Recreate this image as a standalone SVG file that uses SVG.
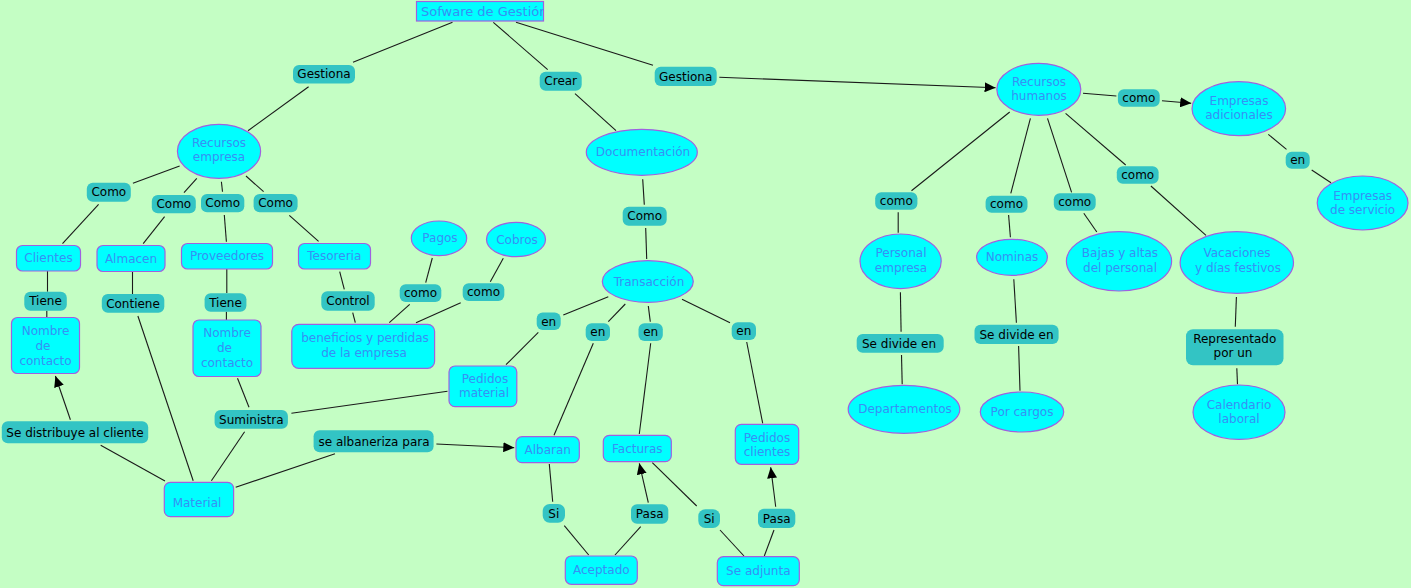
<svg xmlns="http://www.w3.org/2000/svg" width="1411" height="588" viewBox="0 0 1411 588">
<style>
.c{fill:#00FFFF;stroke:#A060E0;stroke-width:1.2}
.l{fill:#33C4C4;stroke:none}
.ct{font-family:"DejaVu Sans",sans-serif;font-size:12px;fill:#3590F5;text-anchor:middle}
.lt{font-family:"DejaVu Sans",sans-serif;font-size:12px;fill:#000;text-anchor:middle}
#connectors line{stroke:#1a1a1a;stroke-width:1.1}
.a{marker-end:url(#arrow)}
</style>
<defs>
<marker id="arrow" markerUnits="userSpaceOnUse" markerWidth="11" markerHeight="10" refX="11" refY="5" orient="auto"><path d="M0,0 L11,5 L0,10 z" fill="#000"/></marker>
<clipPath id="clipTop"><rect x="416" y="1" width="128" height="20"/></clipPath>
</defs>
<rect width="1411" height="588" fill="#C4FEC4"/>
<g id="connectors">
<line x1="452.5" y1="22.3" x2="353" y2="62.3"/>
<line x1="308.6" y1="86.7" x2="248" y2="130.7"/>
<line x1="493.3" y1="22.3" x2="547.7" y2="69.7"/>
<line x1="575" y1="93.7" x2="616" y2="130.7"/>
<line x1="516" y1="22.3" x2="653" y2="65.3"/>
<line class="a" x1="719.3" y1="77.3" x2="995.6" y2="87.7"/>
<line x1="179.6" y1="166" x2="132.9" y2="183.3"/>
<line x1="196.8" y1="178.3" x2="184" y2="192.7"/>
<line x1="221.4" y1="181.7" x2="222.5" y2="191.7"/>
<line x1="246" y1="176" x2="263.6" y2="191.7"/>
<line x1="98.6" y1="204.3" x2="62.5" y2="243.7"/>
<line x1="164.6" y1="216.7" x2="143.2" y2="243.7"/>
<line x1="224.3" y1="215" x2="226.4" y2="241.7"/>
<line x1="289.3" y1="215.3" x2="318.6" y2="241.3"/>
<line x1="47.5" y1="271" x2="47.5" y2="291.7"/>
<line x1="46.8" y1="310.7" x2="46.8" y2="317"/>
<line x1="132.5" y1="271.3" x2="132.5" y2="294"/>
<line x1="137.9" y1="316" x2="193.2" y2="480.7"/>
<line x1="226.8" y1="269" x2="226.8" y2="293"/>
<line x1="226.4" y1="311.7" x2="226.4" y2="320"/>
<line x1="237.5" y1="378.3" x2="249" y2="407.3"/>
<line x1="291.4" y1="413.3" x2="447.5" y2="391.3"/>
<line x1="244.6" y1="431.7" x2="211.4" y2="480.7"/>
<line x1="165" y1="481" x2="100.7" y2="445.3"/>
<line class="a" x1="70.4" y1="419.7" x2="55.4" y2="376"/>
<line x1="235.7" y1="487.3" x2="335" y2="453.7"/>
<line class="a" x1="436.4" y1="444" x2="514.3" y2="447.7"/>
<line x1="339.7" y1="271.7" x2="344.3" y2="289.3"/>
<line x1="352.7" y1="312.7" x2="355.3" y2="322.7"/>
<line x1="432.3" y1="258" x2="425.7" y2="282.7"/>
<line x1="409.7" y1="304.3" x2="389.3" y2="322.7"/>
<line x1="503.3" y1="258.3" x2="490.3" y2="281.7"/>
<line x1="460.7" y1="302.7" x2="416" y2="322.7"/>
<line x1="642.7" y1="179.3" x2="644.3" y2="204.7"/>
<line x1="645.7" y1="228" x2="646.7" y2="259"/>
<line x1="608.3" y1="296.7" x2="563.3" y2="315"/>
<line x1="538.3" y1="332.3" x2="506" y2="364.7"/>
<line x1="625.3" y1="304" x2="608.3" y2="321.7"/>
<line x1="593.3" y1="343.3" x2="554" y2="435.3"/>
<line x1="648.3" y1="306" x2="650.3" y2="321.7"/>
<line x1="650.7" y1="343.3" x2="639.3" y2="434"/>
<line x1="682" y1="299.3" x2="730" y2="322.7"/>
<line x1="746.7" y1="342" x2="762.7" y2="423.3"/>
<line x1="549.3" y1="464" x2="552.7" y2="501.7"/>
<line x1="564.3" y1="525.7" x2="588.7" y2="555"/>
<line x1="615" y1="555" x2="640.7" y2="526.7"/>
<line class="a" x1="648.3" y1="502.7" x2="639.3" y2="463.3"/>
<line x1="652.3" y1="462.7" x2="696.7" y2="506"/>
<line x1="720" y1="530" x2="744" y2="556"/>
<line x1="764.3" y1="556" x2="774" y2="530"/>
<line class="a" x1="775.7" y1="506.7" x2="770.7" y2="467.3"/>
<line x1="1083" y1="93.3" x2="1116.4" y2="96"/>
<line class="a" x1="1162" y1="100.7" x2="1191.2" y2="103.3"/>
<line x1="1268.3" y1="134.3" x2="1286.5" y2="149.3"/>
<line x1="1311.7" y1="170" x2="1331" y2="182.7"/>
<line x1="1009.7" y1="112" x2="911.5" y2="190.7"/>
<line x1="898.2" y1="212.3" x2="898.2" y2="232.7"/>
<line x1="900.4" y1="292.3" x2="901.1" y2="331.7"/>
<line x1="901.5" y1="355" x2="902.2" y2="384.3"/>
<line x1="1030.4" y1="118.3" x2="1010.8" y2="193.3"/>
<line x1="1008.6" y1="215" x2="1010.4" y2="237.3"/>
<line x1="1013.8" y1="279.3" x2="1016.4" y2="322.7"/>
<line x1="1018.6" y1="346" x2="1020" y2="390.7"/>
<line x1="1047.5" y1="118.3" x2="1071.6" y2="192.3"/>
<line x1="1083.8" y1="213.3" x2="1096.8" y2="232"/>
<line x1="1065.6" y1="113.3" x2="1125.7" y2="165"/>
<line x1="1150.9" y1="186" x2="1206" y2="235.3"/>
<line x1="1236.4" y1="297" x2="1235.3" y2="326.7"/>
<line x1="1236.8" y1="368.3" x2="1237.5" y2="384.3"/>
</g>

<!-- concepts -->
<g id="n-sofware"><rect class="c" x="416.5" y="1.5" width="127" height="19.5"/><text class="ct" style="text-anchor:start;font-size:13px" x="421" y="16" clip-path="url(#clipTop)">Sofware de Gestión</text></g>
<g id="n-recursos-empresa"><ellipse class="c" cx="219" cy="151.3" rx="41.6" ry="27"/><text class="ct" x="219" y="146.7">Recursos</text><text class="ct" x="219" y="161.3">empresa</text></g>
<g id="n-clientes"><rect class="c" x="16.5" y="245.5" width="64" height="25.5" rx="6"/><text class="ct" x="48.5" y="262.3">Clientes</text></g>
<g id="n-almacen"><rect class="c" x="97" y="245.5" width="68" height="26" rx="6"/><text class="ct" x="131" y="262.7">Almacen</text></g>
<g id="n-proveedores"><rect class="c" x="181.5" y="243.5" width="91" height="25.5" rx="6"/><text class="ct" x="227" y="260.3">Proveedores</text></g>
<g id="n-tesoreria"><rect class="c" x="298.5" y="243.5" width="72" height="25.5" rx="6"/><text class="ct" x="334.3" y="260.3">Tesoreria</text></g>
<g id="n-nombre1"><rect class="c" x="11.5" y="317.5" width="68" height="56" rx="6"/><text class="ct" x="45.5" y="334.7">Nombre</text><text class="ct" x="43" y="349.7">de</text><text class="ct" x="45.5" y="364.7">contacto</text></g>
<g id="n-nombre2"><rect class="c" x="193" y="320" width="68" height="56.5" rx="6"/><text class="ct" x="227" y="337.3">Nombre</text><text class="ct" x="224.5" y="352.3">de</text><text class="ct" x="227" y="367.3">contacto</text></g>
<g id="n-pagos"><ellipse class="c" cx="439" cy="238.3" rx="27.7" ry="17.3"/><text class="ct" x="440" y="242.3">Pagos</text></g>
<g id="n-cobros"><ellipse class="c" cx="516" cy="239.5" rx="29.5" ry="17.2"/><text class="ct" x="517" y="243.5">Cobros</text></g>
<g id="n-beneficios"><rect class="c" x="291.8" y="324.3" width="142.8" height="44" rx="7"/><text class="ct" x="365" y="342.3">beneficios y perdidas</text><text class="ct" x="364" y="356.7">de la empresa</text></g>
<g id="n-pedidos-material"><rect class="c" x="449" y="366" width="67.8" height="40.7" rx="6"/><text class="ct" x="485" y="383.3">Pedidos</text><text class="ct" x="484" y="397.3">material</text></g>
<g id="n-material"><rect class="c" x="164.3" y="482.3" width="69.3" height="34.4" rx="6"/><text class="ct" x="197" y="507.3">Material</text></g>
<g id="n-documentacion"><ellipse class="c" cx="641.8" cy="152.3" rx="55.5" ry="23"/><text class="ct" x="643" y="156.3">Documentación</text></g>
<g id="n-transaccion"><ellipse class="c" cx="647.8" cy="281.5" rx="45.5" ry="20.8"/><text class="ct" x="649" y="285.5">Transacción</text></g>
<g id="n-albaran"><rect class="c" x="516" y="436.7" width="63.3" height="26" rx="6"/><text class="ct" x="547.7" y="453.7">Albaran</text></g>
<g id="n-facturas"><rect class="c" x="603.3" y="435.3" width="68" height="26.4" rx="6"/><text class="ct" x="637.3" y="452.5">Facturas</text></g>
<g id="n-pedidos-clientes"><rect class="c" x="735.3" y="424.3" width="63.4" height="40" rx="6"/><text class="ct" x="767" y="441.7">Pedidos</text><text class="ct" x="767" y="455.7">clientes</text></g>
<g id="n-aceptado"><rect class="c" x="565.3" y="556" width="72" height="28.3" rx="6"/><text class="ct" x="601.3" y="574.2">Aceptado</text></g>
<g id="n-se-adjunta"><rect class="c" x="717.3" y="556.7" width="82" height="29" rx="6"/><text class="ct" x="758.3" y="575.2">Se adjunta</text></g>
<g id="n-recursos-humanos"><ellipse class="c" cx="1038.8" cy="89.3" rx="42" ry="26"/><text class="ct" x="1039" y="85.7">Recursos</text><text class="ct" x="1039" y="100">humanos</text></g>
<g id="n-empresas-adicionales"><ellipse class="c" cx="1238.8" cy="108.7" rx="46.8" ry="27"/><text class="ct" x="1239" y="104.7">Empresas</text><text class="ct" x="1239" y="119">adicionales</text></g>
<g id="n-empresas-servicio"><ellipse class="c" cx="1362.6" cy="203" rx="45.4" ry="27"/><text class="ct" x="1362.6" y="199.7">Empresas</text><text class="ct" x="1362.6" y="214.3">de servicio</text></g>
<g id="n-personal-empresa"><ellipse class="c" cx="900.6" cy="261.3" rx="40.6" ry="27.3"/><text class="ct" x="901" y="257.3">Personal</text><text class="ct" x="901" y="271.7">empresa</text></g>
<g id="n-nominas"><ellipse class="c" cx="1012" cy="257.3" rx="35.4" ry="18"/><text class="ct" x="1012" y="261.3">Nominas</text></g>
<g id="n-bajas"><ellipse class="c" cx="1119" cy="261.3" rx="52.6" ry="29.7"/><text class="ct" x="1120" y="257.3">Bajas y altas</text><text class="ct" x="1120" y="271.7">del personal</text></g>
<g id="n-vacaciones"><ellipse class="c" cx="1236.8" cy="262.5" rx="56.7" ry="30.8"/><text class="ct" x="1237" y="257.3">Vacaciones</text><text class="ct" x="1238" y="272.3">y días festivos</text></g>
<g id="n-departamentos"><ellipse class="c" cx="904" cy="409.3" rx="55.8" ry="24"/><text class="ct" x="905" y="413.3">Departamentos</text></g>
<g id="n-por-cargos"><ellipse class="c" cx="1022" cy="412" rx="41.7" ry="20"/><text class="ct" x="1022" y="416">Por cargos</text></g>
<g id="n-calendario"><ellipse class="c" cx="1239" cy="412.2" rx="46" ry="27.2"/><text class="ct" x="1239" y="409.3">Calendario</text><text class="ct" x="1239" y="423.3">laboral</text></g>

<!-- linking phrases -->
<g id="l-gestiona1"><rect class="l" x="293" y="65" width="62" height="18.5" rx="6"/><text class="lt" x="324" y="78.3">Gestiona</text></g>
<g id="l-crear"><rect class="l" x="539.7" y="71.7" width="42" height="19" rx="6"/><text class="lt" x="560.7" y="85.3">Crear</text></g>
<g id="l-gestiona2"><rect class="l" x="654.7" y="66.7" width="62" height="19.3" rx="6"/><text class="lt" x="685.7" y="80.5">Gestiona</text></g>
<g id="l-como1"><rect class="l" x="86.8" y="182.7" width="44" height="19" rx="6"/><text class="lt" x="108.8" y="196.4">Como</text></g>
<g id="l-como2"><rect class="l" x="151.8" y="195" width="44" height="18.3" rx="6"/><text class="lt" x="173.8" y="208.4">Como</text></g>
<g id="l-como3"><rect class="l" x="201" y="194" width="43.3" height="18.3" rx="6"/><text class="lt" x="222.7" y="207.4">Como</text></g>
<g id="l-como4"><rect class="l" x="253.6" y="194" width="44" height="18.3" rx="6"/><text class="lt" x="275.6" y="207.4">Como</text></g>
<g id="l-tiene1"><rect class="l" x="24.3" y="291.7" width="42.5" height="19" rx="6"/><text class="lt" x="45.5" y="305.4">Tiene</text></g>
<g id="l-contiene"><rect class="l" x="101.8" y="294" width="62.5" height="18.7" rx="6"/><text class="lt" x="133" y="307.5">Contiene</text></g>
<g id="l-tiene2"><rect class="l" x="204.6" y="293.3" width="41.8" height="18.4" rx="6"/><text class="lt" x="225.5" y="306.7">Tiene</text></g>
<g id="l-control"><rect class="l" x="321.3" y="291.3" width="53.4" height="19.4" rx="6"/><text class="lt" x="348" y="305.2">Control</text></g>
<g id="l-como-pagos"><rect class="l" x="399.7" y="284.3" width="41.6" height="17.7" rx="6"/><text class="lt" x="420.5" y="297.4">como</text></g>
<g id="l-como-cobros"><rect class="l" x="462.7" y="283.3" width="41.6" height="17.7" rx="6"/><text class="lt" x="483.5" y="296.4">como</text></g>
<g id="l-suministra"><rect class="l" x="214.6" y="410" width="73.3" height="18.7" rx="6"/><text class="lt" x="251.3" y="423.5">Suministra</text></g>
<g id="l-se-distribuye"><rect class="l" x="1.8" y="421.3" width="146.4" height="22" rx="6"/><text class="lt" x="75" y="436.5">Se distribuye al cliente</text></g>
<g id="l-albaneriza"><rect class="l" x="313.6" y="430.3" width="120" height="22" rx="6"/><text class="lt" x="374" y="445.5">se albaneriza para</text></g>
<g id="l-como-doc"><rect class="l" x="622.7" y="206.7" width="44" height="19" rx="6"/><text class="lt" x="644.7" y="220.4">Como</text></g>
<g id="l-en1"><rect class="l" x="536.7" y="312.5" width="24" height="17.5" rx="6"/><text class="lt" x="548.7" y="325.5">en</text></g>
<g id="l-en2"><rect class="l" x="585.7" y="323.3" width="24.3" height="17.7" rx="6"/><text class="lt" x="597.8" y="336.4">en</text></g>
<g id="l-en3"><rect class="l" x="638.5" y="323.3" width="24.3" height="17.7" rx="6"/><text class="lt" x="650.7" y="336.4">en</text></g>
<g id="l-en4"><rect class="l" x="731.7" y="322.3" width="24.3" height="17.7" rx="6"/><text class="lt" x="743.8" y="335.4">en</text></g>
<g id="l-si1"><rect class="l" x="542.7" y="504" width="22.3" height="18.7" rx="7"/><text class="lt" x="553.8" y="517.5">Si</text></g>
<g id="l-pasa1"><rect class="l" x="631" y="504.3" width="37.3" height="19.4" rx="6"/><text class="lt" x="649.7" y="518.2">Pasa</text></g>
<g id="l-si2"><rect class="l" x="698.3" y="509.3" width="21.7" height="18.7" rx="7"/><text class="lt" x="709.2" y="522.9">Si</text></g>
<g id="l-pasa2"><rect class="l" x="758" y="508.7" width="37.3" height="19.3" rx="6"/><text class="lt" x="776.7" y="522.5">Pasa</text></g>
<g id="l-como-ea"><rect class="l" x="1117.9" y="89.3" width="41.8" height="17.4" rx="6"/><text class="lt" x="1138.8" y="102.2">como</text></g>
<g id="l-en-es"><rect class="l" x="1285.7" y="151.7" width="24" height="17" rx="6"/><text class="lt" x="1297.7" y="164.4">en</text></g>
<g id="l-como-pe"><rect class="l" x="875.2" y="192.3" width="42.2" height="17.4" rx="6"/><text class="lt" x="896.3" y="205.2">como</text></g>
<g id="l-como-nom"><rect class="l" x="985.6" y="195.7" width="41.9" height="17" rx="6"/><text class="lt" x="1006.5" y="208.4">como</text></g>
<g id="l-como-baj"><rect class="l" x="1053.8" y="193.3" width="41.9" height="17.4" rx="6"/><text class="lt" x="1074.7" y="206.2">como</text></g>
<g id="l-como-vac"><rect class="l" x="1116.8" y="166.3" width="41.8" height="17.4" rx="6"/><text class="lt" x="1137.7" y="179.2">como</text></g>
<g id="l-se-divide1"><rect class="l" x="856.7" y="334" width="87" height="18.7" rx="6"/><text class="lt" x="899" y="347.5">Se divide en</text></g>
<g id="l-se-divide2"><rect class="l" x="974.5" y="324.7" width="84.1" height="19.3" rx="6"/><text class="lt" x="1016.5" y="338.5">Se divide en</text></g>
<g id="l-representado"><rect class="l" x="1186" y="329.3" width="97.5" height="36" rx="7"/><text class="lt" x="1234.7" y="343.3">Representado</text><text class="lt" x="1233" y="357.3">por un</text></g>
</svg>
